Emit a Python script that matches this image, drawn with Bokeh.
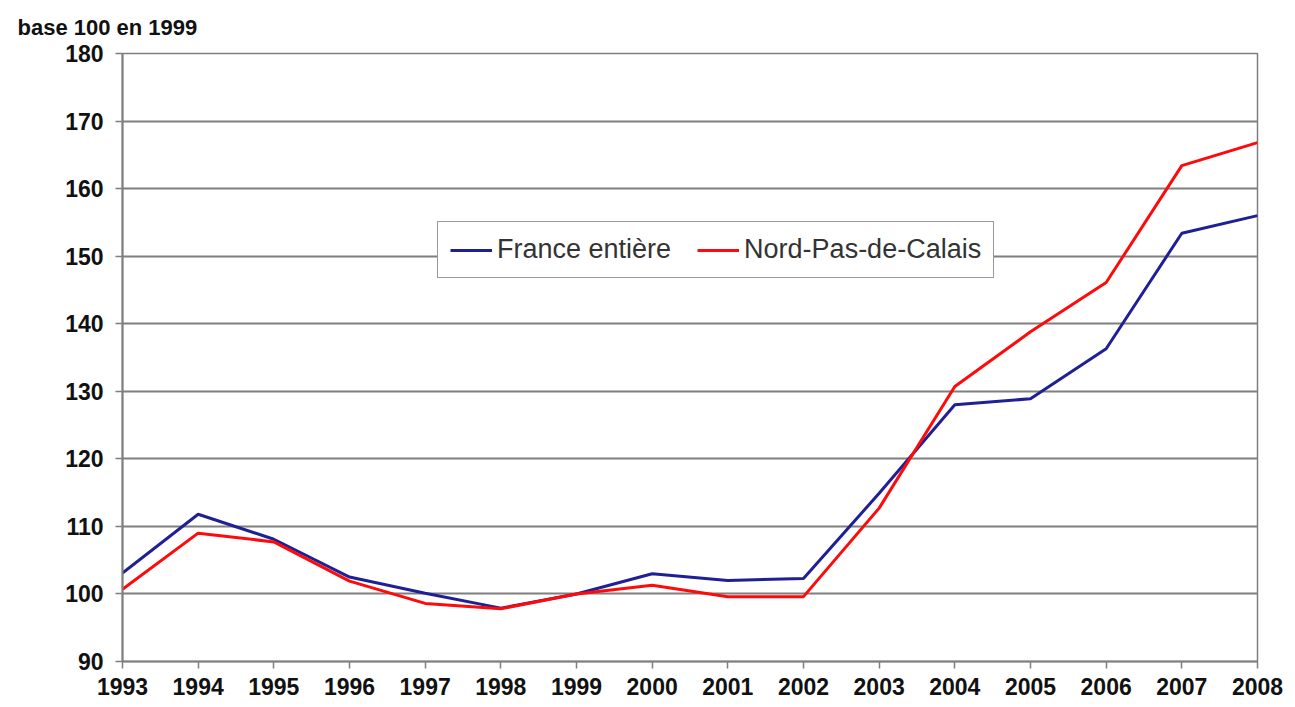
from bokeh.plotting import figure
from bokeh.models import Range1d, FixedTicker, Legend, LegendItem
from bokeh.embed import file_html
from bokeh.resources import INLINE

years = [1993, 1994, 1995, 1996, 1997, 1998, 1999, 2000, 2001, 2002, 2003, 2004, 2005, 2006, 2007, 2008]
france = [103.1, 111.8, 108.1, 102.5, 100.1, 97.9, 100.0, 103.0, 102.0, 102.3, 114.9, 128.0, 128.9, 136.3, 153.4, 156.0]
npdc = [100.7, 109.0, 107.7, 101.9, 98.6, 97.8, 100.0, 101.3, 99.6, 99.6, 112.7, 130.7, 138.8, 146.1, 163.4, 166.8]
y_ticks = [90, 100, 110, 120, 130, 140, 150, 160, 170, 180]
series_names = ["France entière", "Nord-Pas-de-Calais"]

GRID = "#7f7f7f"
FONT = "Liberation Sans"

p = figure(width=1292, height=705, output_backend="svg", toolbar_location=None,
           x_range=Range1d(1993, 2008), y_range=Range1d(90, 180),
           min_border_left=122, min_border_right=35, min_border_top=53, min_border_bottom=44,
           title="base 100 en 1999")

p.title.align = "left"
p.title.vertical_align = "top"
p.title.offset = -105
p.title.standoff = 24
p.title.text_font = FONT
p.title.text_font_style = "bold"
p.title.text_font_size = "22px"
p.title.text_color = "#111111"

p.background_fill_color = "white"
p.border_fill_color = "white"
p.outline_line_color = GRID
p.outline_line_width = 1.5

p.xgrid.grid_line_color = None
p.ygrid.grid_line_color = GRID
p.ygrid.grid_line_width = 2
p.ygrid.ticker = FixedTicker(ticks=y_ticks)

p.xaxis.ticker = FixedTicker(ticks=years)
p.yaxis.ticker = FixedTicker(ticks=y_ticks)
for ax in (p.xaxis[0], p.yaxis[0]):
    ax.axis_line_color = GRID
    ax.axis_line_width = 2
    ax.major_tick_line_color = GRID
    ax.major_tick_line_width = 1.5
    ax.major_tick_in = 0
    ax.major_tick_out = 7
    ax.minor_tick_line_color = None
    ax.major_label_text_font = FONT
    ax.major_label_text_font_style = "bold"
    ax.major_label_text_font_size = "23px"
    ax.major_label_text_color = "#111111"
p.xaxis.major_label_standoff = 9
p.yaxis.major_label_standoff = 12

r1 = p.line(years, france, line_color="#1f1f96", line_width=3)
r2 = p.line(years, npdc, line_color="#ff0a0a", line_width=3)

legend = Legend(items=[LegendItem(label=series_names[0], renderers=[r1]),
                       LegendItem(label=series_names[1], renderers=[r2])],
                orientation="horizontal", location=(315, 383),
                label_text_font=FONT, label_text_font_size="27px", label_text_color="#333333",
                glyph_width=42, glyph_height=20, label_standoff=5, spacing=26,
                padding=12, margin=0,
                border_line_color="#333333", border_line_width=1.5,
                background_fill_color="white", background_fill_alpha=1.0)
p.add_layout(legend, "center")

open("out.html", "w").write(file_html(p, INLINE))
